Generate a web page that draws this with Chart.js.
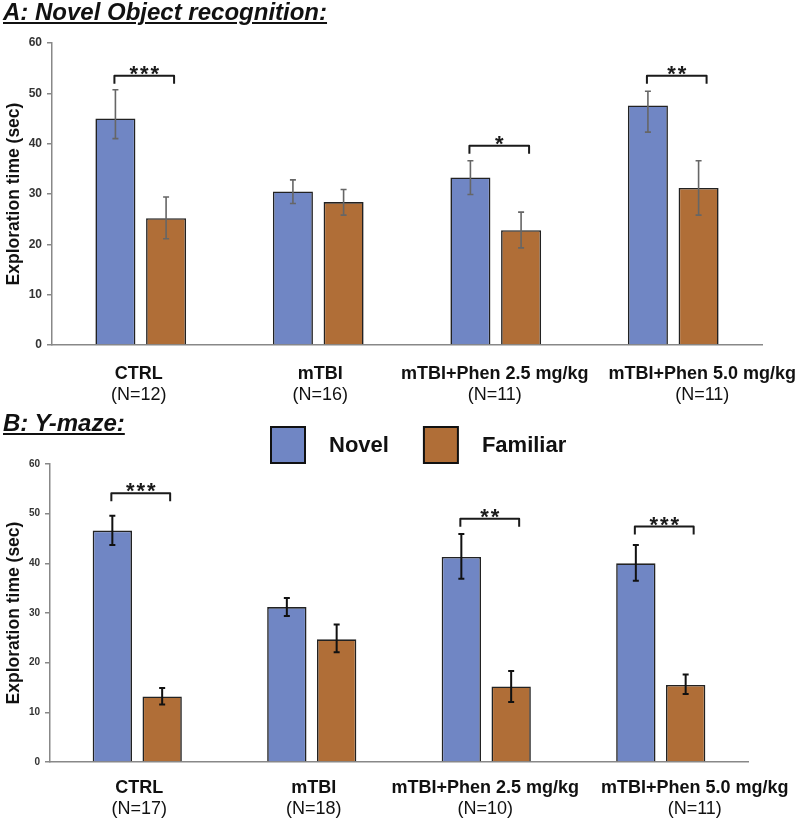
<!DOCTYPE html>
<html><head><meta charset="utf-8">
<script src="https://cdn.jsdelivr.net/npm/chart.js@4.4.1/dist/chart.umd.min.js"></script>
<style>
html,body{margin:0;padding:0;background:#fff;}
body{width:800px;height:822px;position:relative;overflow:hidden;font-family:"Liberation Sans",Arial,sans-serif;}
.ptitle{position:absolute;left:3px;font-weight:bold;font-style:italic;font-size:24px;line-height:24px;text-decoration:underline;text-decoration-thickness:2px;text-underline-offset:2px;color:#111;white-space:nowrap;}
#ca{position:absolute;left:0;top:0;}
#cb{position:absolute;left:0;top:408px;}
</style></head>
<body>
<canvas id="ca" width="800" height="408"></canvas>
<canvas id="cb" width="800" height="414"></canvas>
<div class="ptitle" style="top:0px">A: Novel Object recognition:</div>
<div class="ptitle" style="top:411px">B: Y-maze:</div>
<script>
// ---------- data ----------
const categories = ['CTRL', 'mTBI', 'mTBI+Phen 2.5 mg/kg', 'mTBI+Phen 5.0 mg/kg'];
const seriesNames = ['Novel', 'Familiar'];
const yTicks = [0, 10, 20, 30, 40, 50, 60];

// Panel A: Novel Object recognition
const countsA = ['(N=12)', '(N=16)', '(N=11)', '(N=11)'];
const novelA = [45.0, 30.5, 33.3, 47.6];
const novelAErrUp = [5.7, 2.3, 3.3, 2.8];
const novelAErrDown = [4.0, 2.4, 3.4, 5.3];
const familiarA = [25.2, 28.4, 22.8, 31.2];
const familiarAErrUp = [4.2, 2.5, 3.6, 5.4];
const familiarAErrDown = [4.1, 2.6, 3.5, 5.4];
const sigCatsA = [0, 2, 3];
const sigLevelsA = [53.5, 39.6, 53.5];
const sigLabelsA = ['***', '*', '**'];

// Panel B: Y-maze
const countsB = ['(N=17)', '(N=18)', '(N=10)', '(N=11)'];
const novelB = [46.6, 31.2, 41.3, 40.0];
const novelBErrUp = [3.0, 1.8, 4.6, 3.7];
const novelBErrDown = [2.9, 1.8, 4.4, 3.5];
const familiarB = [13.2, 24.7, 15.2, 15.5];
const familiarBErrUp = [1.7, 3.0, 3.1, 2.1];
const familiarBErrDown = [1.6, 2.6, 3.1, 1.8];
const sigCatsB = [0, 2, 3];
const sigLevelsB = [54.1, 49.0, 47.4];
const sigLabelsB = ['***', '**', '***'];

// ---------- styles ----------
const NOVEL_COLOR = '#7086C4';
const FAMILIAR_COLOR = '#B06E37';
const FONT = '"Liberation Sans", Arial, sans-serif';

// ---------- plugins ----------
const errorBarPlugin = {
  id: 'errorBars',
  afterDatasetsDraw(chart, args, opts) {
    const ctx = chart.ctx, y = chart.scales.y;
    ctx.save();
    ctx.strokeStyle = opts.color; ctx.lineWidth = opts.width; ctx.lineCap = 'butt';
    chart.data.datasets.forEach((ds, i) => {
      const meta = chart.getDatasetMeta(i);
      meta.data.forEach((bar, j) => {
        const v = ds.data[j];
        const top = y.getPixelForValue(v + ds.errUp[j]);
        const bot = y.getPixelForValue(v - ds.errDown[j]);
        ctx.beginPath();
        ctx.moveTo(bar.x, top); ctx.lineTo(bar.x, bot);
        ctx.moveTo(bar.x - opts.cap, top); ctx.lineTo(bar.x + opts.cap, top);
        ctx.moveTo(bar.x - opts.cap, bot); ctx.lineTo(bar.x + opts.cap, bot);
        ctx.stroke();
      });
    });
    ctx.restore();
  }
};

const sigPlugin = {
  id: 'sig',
  afterDatasetsDraw(chart, args, opts) {
    const ctx = chart.ctx, y = chart.scales.y;
    const m0 = chart.getDatasetMeta(0), m1 = chart.getDatasetMeta(1);
    ctx.save();
    ctx.strokeStyle = '#1a1a1a'; ctx.lineWidth = 2; ctx.lineJoin = 'round';
    ctx.fillStyle = '#1a1a1a';
    opts.cats.forEach((c, k) => {
      const x1 = m0.data[c].x - 1, x2 = m1.data[c].x + 8;
      const yy = y.getPixelForValue(opts.levels[k]);
      ctx.beginPath();
      ctx.moveTo(x1, yy + 8); ctx.lineTo(x1, yy); ctx.lineTo(x2, yy); ctx.lineTo(x2, yy + 8);
      ctx.stroke();
      ctx.font = 'bold 22px ' + FONT;
      try { ctx.letterSpacing = '2px'; } catch (e) {}
      ctx.textAlign = 'center'; ctx.textBaseline = 'alphabetic';
      ctx.fillText(opts.labels[k], (x1 + x2) / 2 + 1, yy + 5);
    });
    ctx.restore();
  }
};

const catLabelPlugin = {
  id: 'catLabels',
  afterDraw(chart, args, opts) {
    const xs = chart.scales.x, ctx = chart.ctx;
    const base = chart.chartArea.bottom;
    ctx.save();
    ctx.fillStyle = '#111'; ctx.textAlign = 'center'; ctx.textBaseline = 'alphabetic';
    chart.data.labels.forEach((lab, i) => {
      const cx = xs.getPixelForTick(i) + (opts.offsets[i] || 0);
      ctx.font = 'bold 18px ' + FONT;
      ctx.fillText(lab, cx, base + opts.nameDy);
      ctx.font = '18px ' + FONT;
      ctx.fillText(opts.counts[i], cx, base + opts.countDy);
    });
    ctx.restore();
  }
};

const boxLegendPlugin = {
  id: 'boxLegend',
  afterDraw(chart, args, opts) {
    if (!opts.show) return;
    const ctx = chart.ctx;
    ctx.save();
    ctx.font = 'bold 22px ' + FONT;
    ctx.textBaseline = 'middle'; ctx.textAlign = 'left';
    let x = opts.x;
    chart.data.datasets.forEach(ds => {
      ctx.fillStyle = ds.backgroundColor;
      ctx.fillRect(x, opts.y, opts.w, opts.h);
      ctx.strokeStyle = '#111'; ctx.lineWidth = 2;
      ctx.strokeRect(x, opts.y, opts.w, opts.h);
      ctx.fillStyle = '#111';
      ctx.fillText(ds.label, x + opts.w + opts.gap, opts.y + opts.h / 2 + 1);
      x += opts.w + opts.gap + ctx.measureText(ds.label).width + opts.spacing;
    });
    ctx.restore();
  }
};

function makeChart(canvasId, cfg) {
  const datasets = [
    { label: seriesNames[0], data: cfg.novel, errUp: cfg.novelUp, errDown: cfg.novelDown,
      backgroundColor: NOVEL_COLOR, borderColor: '#222', borderWidth: 1.6,
      categoryPercentage: 0.571, barPercentage: 0.79 },
    { label: seriesNames[1], data: cfg.familiar, errUp: cfg.familiarUp, errDown: cfg.familiarDown,
      backgroundColor: FAMILIAR_COLOR, borderColor: '#222', borderWidth: 1.6,
      categoryPercentage: 0.571, barPercentage: 0.79 }
  ];
  return new Chart(document.getElementById(canvasId), {
    type: 'bar',
    data: { labels: categories, datasets },
    plugins: [errorBarPlugin, sigPlugin, catLabelPlugin, boxLegendPlugin],
    options: {
      responsive: false,
      animation: false,
      events: [],
      layout: { padding: { top: cfg.padTop, right: cfg.padRight, left: 0, bottom: 0 } },
      plugins: {
        legend: { display: false },
        tooltip: { enabled: false },
        errorBars: { color: cfg.errColor, width: cfg.errWidth, cap: 3 },
        sig: { cats: cfg.sigCats, levels: cfg.sigLevels, labels: cfg.sigLabels },
        catLabels: { counts: cfg.counts, offsets: cfg.labelOffsets, nameDy: cfg.nameDy, countDy: cfg.countDy },
        boxLegend: cfg.legend
      },
      scales: {
        x: {
          type: 'category',
          grid: { display: false },
          border: { display: true, color: '#888', width: 1.5 },
          ticks: { display: false },
          afterFit: s => { s.height = cfg.xHeight; }
        },
        y: {
          min: 0, max: 60,
          afterBuildTicks: s => { s.ticks = yTicks.map(v => ({ value: v })); },
          grid: { display: true, drawOnChartArea: false, drawTicks: true, tickLength: 5, color: '#888', lineWidth: 1.5 },
          border: { display: true, color: '#888', width: 1.5 },
          ticks: { color: '#333', padding: 5, font: { family: FONT, size: cfg.tickSize, weight: 'bold' } },
          title: { display: true, text: 'Exploration time (sec)', color: '#111',
                   font: { family: FONT, size: 17.5, weight: 'bold' }, padding: { top: 4, bottom: 0 } },
          afterFit: s => { s.width = cfg.yWidth; }
        }
      }
    }
  });
}

makeChart('ca', {
  novel: novelA, novelUp: novelAErrUp, novelDown: novelAErrDown,
  familiar: familiarA, familiarUp: familiarAErrUp, familiarDown: familiarAErrDown,
  sigCats: sigCatsA, sigLevels: sigLevelsA, sigLabels: sigLabelsA,
  counts: countsA, labelOffsets: [-2, 2, -1, 29], nameDy: 34, countDy: 54.5,
  padTop: 43, padRight: 38, xHeight: 63, yWidth: 52, tickSize: 12,
  errColor: '#666', errWidth: 1.6,
  legend: { show: false }
});

makeChart('cb', {
  novel: novelB, novelUp: novelBErrUp, novelDown: novelBErrDown,
  familiar: familiarB, familiarUp: familiarBErrUp, familiarDown: familiarBErrDown,
  sigCats: sigCatsB, sigLevels: sigLevelsB, sigLabels: sigLabelsB,
  counts: countsB, labelOffsets: [2, 2, -1, 34], nameDy: 31, countDy: 52,
  padTop: 56, padRight: 52, xHeight: 60, yWidth: 50, tickSize: 10,
  errColor: '#111', errWidth: 2,
  legend: { show: true, x: 271, y: 19, w: 34, h: 36, gap: 24, spacing: 35 }
});
</script>
</body></html>
